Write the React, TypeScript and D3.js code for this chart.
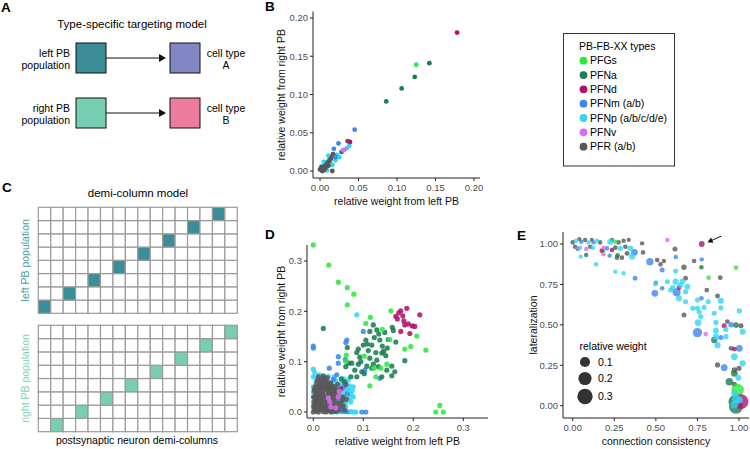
import React from "react";
import * as d3 from "d3";

const FONT = "'Liberation Sans', Arial, Helvetica, sans-serif";

// ---------- types / legend ----------
const typeKeys = ["PFGs", "PFNa", "PFNd", "PFNm", "PFNp", "PFNv", "PFR"];
const typeLabels = ["PFGs", "PFNa", "PFNd", "PFNm (a/b)", "PFNp (a/b/c/d/e)", "PFNv", "PFR (a/b)"];
const typeColors = ["#2be83f", "#1c7c53", "#b0126b", "#3d86ee", "#33d4f4", "#d96cf0", "#5a5658"];

// ---------- panel B: relative weight left vs right PB ----------
const bPFGs = [[0.125, 0.139]];
const bPFNa = [[0.142, 0.141], [0.123, 0.123], [0.106, 0.108], [0.086, 0.091], [0.028, 0.025]];
const bPFNd = [[0.178, 0.181], [0.039, 0.038]];
const bPFNm = [[0.045, 0.054], [0.024, 0.036], [0.018, 0.029], [0.02, 0.018]];
const bPFNp = [[0.038, 0.033], [0.035, 0.03], [0.012, 0.015], [0.015, 0.018], [0.018, 0.02], [0.01, 0.012],
  [0.006, 0.008], [0.004, 0.004], [0.008, 0.005], [0.014, 0.01], [0.02, 0.014], [0.022, 0.021],
  [0.016, 0.008], [0.002, 0.006], [0.011, 0.02], [0.005, 0.012], [0.025, 0.018], [0.009, 0.001]];
const bPFNv = [[0.032, 0.028], [0.03, 0.027]];
const bPFR = [[0.036, 0.039], [0.017, 0.022], [0.016, 0.0], [0.0, 0.002], [0.002, 0.001], [0.004, 0.004],
  [0.006, 0.006], [0.008, 0.008], [0.01, 0.011], [0.012, 0.013], [0.014, 0.016], [0.016, 0.019],
  [0.002, 0.005], [0.005, 0.001], [0.003, 0.0], [0.007, 0.004], [0.011, 0.007]];

// ---------- panel D: per neuron ----------
const dPFGs = [[0, 0.332], [0.031, 0.292], [0.05, 0.258], [0.068, 0.247], [0.081, 0.234], [0.068, 0.213],
  [0.155, 0.201], [0.114, 0.188], [0.105, 0.176], [0.138, 0.164], [0.153, 0.144], [0.207, 0.151],
  [0.195, 0.13], [0.183, 0.125], [0.225, 0.123], [0.066, 0.113], [0.102, 0.111], [0.065, 0.101],
  [0.147, 0.095], [0.135, 0.087], [0.121, 0.087], [0.125, 0.07], [0.113, 0.052], [0.253, 0.013],
  [0.245, 0], [0.26, 0]];
const dPFNa = [[0.02, 0.166], [0.12, 0.173], [0.127, 0.163], [0.113, 0.16], [0.131, 0.155], [0.143, 0.158],
  [0.16, 0.162], [0.15, 0.144], [0.165, 0.139], [0.133, 0.143], [0.122, 0.148], [0.105, 0.143],
  [0.1, 0.133], [0.117, 0.133], [0.138, 0.131], [0.148, 0.127], [0.09, 0.125], [0.087, 0.118],
  [0.11, 0.122], [0.125, 0.118], [0.137, 0.117], [0.093, 0.109], [0.113, 0.107], [0.127, 0.103],
  [0.077, 0.097], [0.09, 0.095], [0.12, 0.095], [0.107, 0.091], [0.065, 0.09], [0.071, 0.097],
  [0.083, 0.083], [0.097, 0.08], [0.117, 0.087], [0.157, 0.091], [0.087, 0.07], [0.102, 0.076],
  [0.137, 0.07], [0.157, 0.072], [0.183, 0.102], [0.158, 0.168], [0.062, 0.06], [0.075, 0.07],
  [0.047, 0.044], [0.06, 0.03], [0.068, 0.128], [0.141, 0.121], [0.13, 0.09], [0.095, 0.1],
  [0.108, 0.135], [0.145, 0.112], [0.147, 0.083], [0.163, 0.08], [0.056, 0.066], [0.042, 0.05]];
const dPFNd = [[0.175, 0.201], [0.187, 0.206], [0.165, 0.19], [0.179, 0.191], [0.181, 0.181], [0.19, 0.175],
  [0.198, 0.171], [0.203, 0.17], [0.213, 0.193], [0.175, 0.16], [0.193, 0.156], [0.171, 0.197],
  [0.183, 0.173], [0.168, 0.185], [0.055, 0.046]];
const dPFNm = [[0, 0.131], [0, 0.127], [0.067, 0.143], [0.065, 0.138], [0.1, 0.16], [0.05, 0.11],
  [0.05, 0.097], [0.032, 0.087], [0.103, 0.083], [0.133, 0.067], [0.047, 0.074], [0.097, 0],
  [0.105, 0], [0.028, 0.06], [0.015, 0.05], [0.06, 0.05], [0.055, 0.03], [0.04, 0.065], [0.064, 0.104],
  [0.068, 0.036], [0.056, 0.002], [0.066, 0.001]];
const dPFNp = [[0, 0.085], [0.087, 0.193], [0.02, 0.07], [0, 0.07], [0.01, 0.066], [0.03, 0.071],
  [0.045, 0.062], [0.055, 0.058], [0.065, 0.06], [0.07, 0.045], [0.075, 0.035], [0.06, 0.02],
  [0.08, 0.03], [0.075, 0.02], [0.04, 0], [0.05, 0], [0.06, 0], [0.07, 0], [0.075, 0.001], [0.08, 0],
  [0.085, 0], [0, 0.05], [0, 0.04], [0, 0.03], [0, 0.02], [0, 0.01], [0.045, 0.045], [0.05, 0.04],
  [0.065, 0.01], [0.04, 0.03], [0.052, 0.022], [0.035, 0.056], [0.02, 0.055], [0.01, 0.045],
  [0.025, 0.04], [0.06, 0.066], [0.048, 0.01], [0.072, 0.052], [0.08, 0.05], [0.062, 0.04],
  [0.005, 0.06], [0.015, 0.062], [0.07, 0.064], [0.038, 0.048], [0.058, 0.03], [0.003, 0.078],
  [0.012, 0.074], [0.025, 0.066], [0.042, 0.07], [0.05, 0.052], [0.066, 0.048], [0.078, 0.042],
  [0.072, 0.028], [0.064, 0.018], [0.058, 0.008], [0.045, 0.016]];
const dPFNv = [[0.033, 0.02], [0.05, 0.03], [0.035, 0.01], [0.03, 0.028], [0.045, 0.008], [0.052, 0.041]];
const dPFR = [[0, 0], [0.005, 0.002], [0.01, 0], [0.015, 0.004], [0.02, 0.001], [0.025, 0], [0.03, 0.003],
  [0.035, 0], [0.04, 0.002], [0.045, 0.001], [0.003, 0.01], [0.008, 0.014], [0.013, 0.009],
  [0.018, 0.012], [0.024, 0.008], [0.029, 0.013], [0.034, 0.01], [0.04, 0.012], [0.046, 0.009],
  [0.002, 0.02], [0.007, 0.024], [0.012, 0.019], [0.017, 0.023], [0.023, 0.018], [0.028, 0.022],
  [0.033, 0.02], [0.038, 0.025], [0.001, 0.03], [0.006, 0.034], [0.011, 0.029], [0.016, 0.033],
  [0.022, 0.028], [0.027, 0.032], [0.032, 0.036], [0.003, 0.04], [0.009, 0.043], [0.014, 0.039],
  [0.02, 0.042], [0.026, 0.046], [0.004, 0.05], [0.012, 0.052], [0.018, 0.055], [0.024, 0.06],
  [0.015, 0.065], [0.02, 0.072], [0.028, 0.068], [0.035, 0.058], [0.042, 0.045], [0.05, 0.03],
  [0.055, 0.018], [0.06, 0.012], [0.065, 0.055], [0.052, 0.04], [0.048, 0.055], [0.044, 0.035],
  [0.037, 0.042], [0.031, 0.05], [0.066, 0.025],
  [0.002, 0.006], [0.006, 0.017], [0.011, 0.005], [0.016, 0.016], [0.021, 0.007], [0.027, 0.015],
  [0.032, 0.006], [0.037, 0.015], [0.043, 0.005], [0.048, 0.018], [0.004, 0.027], [0.009, 0.035],
  [0.014, 0.026], [0.019, 0.036], [0.025, 0.025], [0.03, 0.041], [0.035, 0.031], [0.041, 0.022],
  [0.046, 0.028], [0.002, 0.045], [0.007, 0.056], [0.013, 0.046], [0.019, 0.048], [0.023, 0.053],
  [0.029, 0.058], [0.033, 0.046], [0.039, 0.035], [0.008, 0.063], [0.016, 0.058], [0.022, 0.066],
  [0.038, 0.052], [0.044, 0.04], [0.053, 0.011], [0.058, 0.024], [0.062, 0.004], [0.05, 0.004],
  [0.01, 0.07], [0.027, 0.05], [0.001, 0.012], [0.036, 0.005]];

// ---------- panel E: consistency, lateralization, relative weight ----------
const ePFR = [[0.0, 1.01, 0.005], [0.04, 1.03, 0.003], [0.075, 1.025, 0.004], [0.115, 1.025, 0.003],
  [0.165, 1.01, 0.005], [0.236, 1.025, 0.004], [0.276, 1.01, 0.006], [0.306, 1.02, 0.004],
  [0.337, 1.025, 0.003], [0.417, 1.004, 0.004], [0.014, 0.983, 0.004], [0.105, 0.983, 0.005],
  [0.256, 0.977, 0.006], [0.317, 0.983, 0.005], [0.423, 0.948, 0.005], [0.615, 0.969, 0.008],
  [0.266, 0.915, 0.006], [0.296, 0.915, 0.006], [0.327, 0.942, 0.007], [0.508, 0.901, 0.006],
  [0.528, 0.874, 0.005], [0.548, 0.895, 0.004], [0.73, 0.895, 0.005], [0.669, 0.856, 0.012],
  [0.679, 0.788, 0.007], [0.887, 0.792, 0.007], [0.806, 0.715, 0.006], [0.871, 0.678, 0.007],
  [0.669, 0.561, 0.008], [1.012, 0.495, 0.008], [0.952, 0.355, 0.006], [0.871, 0.252, 0.01],
  [0.972, 0.221, 0.012], [1.0, 0.231, 0.01], [0.972, 0.132, 0.008], [0.93, 0.52, 0.006]];
const ePFNm = [[0.052, 1.014, 0.004], [0.125, 1.01, 0.004], [0.206, 0.973, 0.005], [0.222, 0.928, 0.004],
  [0.371, 0.948, 0.028], [0.464, 0.891, 0.037], [0.776, 0.905, 0.004], [0.538, 0.839, 0.008],
  [0.375, 0.788, 0.007], [0.494, 0.695, 0.028], [0.538, 0.726, 0.005], [0.625, 0.701, 0.05],
  [0.774, 0.664, 0.006], [0.75, 0.452, 0.08], [0.891, 0.421, 0.008], [1.002, 0.355, 0.028],
  [0.911, 0.235, 0.028], [0.5, 0.76, 0.005], [0.62, 0.92, 0.004], [0.952, 0.5, 0.012]];
const ePFNa = [[0.081, 0.932, 0.004], [0.27, 0.93, 0.005], [0.03, 0.97, 0.004], [0.774, 0.856, 0.005],
  [0.982, 0.499, 0.014], [0.851, 0.406, 0.022], [0.972, 0.2, 0.028], [0.942, 0.148, 0.042],
  [0.976, 0.025, 0.2], [0.982, -0.006, 0.24]];
const ePFGs = [[0.256, 1.014, 0.004], [0.184, 0.957, 0.004], [0.982, 0.854, 0.007],
  [0.817, 0.792, 0.005], [0.992, 0.097, 0.18]];
const ePFNd = [[0.776, 1.0, 0.016], [0.175, 0.959, 0.005], [0.236, 0.963, 0.005], [0.639, 0.73, 0.006],
  [0.911, 0.495, 0.008], [0.972, 0.35, 0.006], [1.012, 0.025, 0.27]];
const ePFNv = [[0.028, 0.973, 0.004], [0.081, 0.969, 0.004], [0.185, 0.977, 0.004],
  [0.185, 0.936, 0.004], [0.569, 1.025, 0.005], [0.8, 0.443, 0.006]];
const ePFNp = [[0.02, 1.02, 0.004], [0.095, 1.01, 0.004], [0.145, 1.02, 0.005], [0.044, 0.977, 0.005],
  [0.121, 0.977, 0.005], [0.226, 1.014, 0.02], [0.286, 0.973, 0.012], [0.347, 0.973, 0.014],
  [0.048, 0.922, 0.004], [0.357, 0.922, 0.02], [0.141, 0.874, 0.005], [0.619, 0.833, 0.008],
  [0.256, 0.829, 0.004], [0.306, 0.819, 0.004], [0.569, 0.767, 0.008], [0.619, 0.767, 0.02],
  [0.498, 0.753, 0.007], [0.649, 0.746, 0.014], [0.69, 0.736, 0.016], [0.589, 0.715, 0.008],
  [0.679, 0.705, 0.01], [0.75, 0.654, 0.008], [0.679, 0.643, 0.009], [0.891, 0.649, 0.02],
  [0.815, 0.643, 0.008], [0.639, 0.664, 0.02], [0.722, 0.602, 0.008], [0.75, 0.602, 0.008],
  [0.79, 0.608, 0.008], [0.891, 0.606, 0.009], [0.76, 0.581, 0.009], [0.851, 0.571, 0.008],
  [0.77, 0.551, 0.01], [1.002, 0.586, 0.01], [0.754, 0.513, 0.028], [0.861, 0.515, 0.01],
  [0.921, 0.472, 0.01], [0.861, 0.464, 0.016], [1.022, 0.458, 0.018], [0.861, 0.427, 0.022],
  [0.921, 0.427, 0.01], [0.871, 0.375, 0.022], [0.972, 0.303, 0.028], [1.022, 0.262, 0.02],
  [0.996, 0.173, 0.016], [0.972, 0.076, 0.022], [0.972, 0.008, 0.05], [1.002, 0.035, 0.03],
  [0.66, 0.77, 0.012], [0.6, 0.73, 0.01], [0.985, 0.04, 0.06]];

const bData: Record<string, number[][]> = { PFGs: bPFGs, PFNa: bPFNa, PFNd: bPFNd, PFNm: bPFNm, PFNp: bPFNp, PFNv: bPFNv, PFR: bPFR };
const dData: Record<string, number[][]> = { PFGs: dPFGs, PFNa: dPFNa, PFNd: dPFNd, PFNm: dPFNm, PFNp: dPFNp, PFNv: dPFNv, PFR: dPFR };
const eData: Record<string, number[][]> = { PFGs: ePFGs, PFNa: ePFNa, PFNd: ePFNd, PFNm: ePFNm, PFNp: ePFNp, PFNv: ePFNv, PFR: ePFR };

const bOrder = ["PFNp", "PFR", "PFNm", "PFNa", "PFGs", "PFNv", "PFNd"];
const dOrder = ["PFNp", "PFNm", "PFNa", "PFGs", "PFNd", "PFR", "PFNv"];
const eOrder = ["PFR", "PFNm", "PFNa", "PFGs", "PFNd", "PFNv", "PFNp"];

const bTicks = [0, 0.05, 0.1, 0.15, 0.2];
const dTicks = [0, 0.1, 0.2, 0.3];
const eTicks = [0, 0.25, 0.5, 0.75, 1];
const sizeLegend = [0.1, 0.2, 0.3];

// panel C filled cells: column index for each row (bottom row first)
const leftFilled = [0, 2, 4, 6, 8, 10, 12, 14];
const rightFilled = [1, 3, 5, 7, 9, 11, 13, 15];
const nCols = 16;
const nRows = 8;

const colorOf = (k: string) => typeColors[typeKeys.indexOf(k)];

type Sc = d3.ScaleLinear<number, number>;

function Axes({ x, y, xLine, yLine, xTicks, yTicks, fmt, xTitle, yTitle, yTitleX }: {
  x: Sc; y: Sc; xLine: [number, number, number]; yLine: [number, number, number];
  xTicks: number[]; yTicks: number[]; fmt: (n: number) => string; xTitle: string; yTitle: string; yTitleX: number;
}) {
  const [xy, x0, x1] = xLine;
  const [yx, y0, y1] = yLine;
  return (
    <g fontFamily={FONT}>
      <line x1={x0} x2={x1} y1={xy} y2={xy} stroke="#222" strokeWidth={1} />
      <line x1={yx} x2={yx} y1={y0} y2={y1} stroke="#222" strokeWidth={1} />
      {xTicks.map(t => (
        <g key={"x" + t}>
          <line x1={x(t)} x2={x(t)} y1={xy} y2={xy + 3} stroke="#222" />
          <text x={x(t)} y={xy + 12.5} fontSize={9.5} fill="#4d4d4d" textAnchor="middle">{fmt(t)}</text>
        </g>
      ))}
      {yTicks.map(t => (
        <g key={"y" + t}>
          <line x1={yx - 3} x2={yx} y1={y(t)} y2={y(t)} stroke="#222" />
          <text x={yx - 5} y={y(t) + 3.4} fontSize={9.5} fill="#4d4d4d" textAnchor="end">{fmt(t)}</text>
        </g>
      ))}
      <text x={(x0 + x1) / 2} y={xy + 27} fontSize={10.5} textAnchor="middle" fill="#111">{xTitle}</text>
      <text transform={`translate(${yTitleX},${(y0 + y1) / 2}) rotate(-90)`} fontSize={10.5}
        textAnchor="middle" fill="#111">{yTitle}</text>
    </g>
  );
}

function PanelA() {
  const boxes = [
    { x: 76, y: 43, c: "#3b8e97" }, { x: 170, y: 43, c: "#8187c3" },
    { x: 76, y: 98, c: "#78ceb3" }, { x: 170, y: 98, c: "#ee7c9e" },
  ];
  return (
    <g fontFamily={FONT}>
      <text x={132} y={27.5} fontSize={11.5} textAnchor="middle">Type-specific targeting model</text>
      {boxes.map((b, i) => (
        <rect key={i} x={b.x} y={b.y} width={30} height={30} fill={b.c} stroke="#111" strokeWidth={1} />
      ))}
      {[58, 113].map(yy => (
        <g key={yy}>
          <line x1={106} x2={160} y1={yy} y2={yy} stroke="#111" strokeWidth={1} />
          <path d={`M159,${yy - 4} L166,${yy} L159,${yy + 4} Z`} fill="#111" />
        </g>
      ))}
      <g fontSize={10.5} textAnchor="end">
        <text x={70} y={56.5}>left PB</text>
        <text x={70} y={68.5}>population</text>
        <text x={70} y={111.5}>right PB</text>
        <text x={70} y={123.5}>population</text>
      </g>
      <g fontSize={10.5} textAnchor="middle">
        <text x={226} y={56.5}>cell type</text>
        <text x={226} y={68.5}>A</text>
        <text x={226} y={111.5}>cell type</text>
        <text x={226} y={123.5}>B</text>
      </g>
    </g>
  );
}

function Grid({ top, bottom, filled, color }: { top: number; bottom: number; filled: number[]; color: string }) {
  const cx = d3.scaleBand<number>().domain(d3.range(nCols)).range([38.3, 237.3]);
  // row 0 is the bottom row
  const ry = d3.scaleBand<number>().domain(d3.range(nRows)).range([bottom, top]);
  const cells: [number, number][] = [];
  for (const r of d3.range(nRows)) for (const c of d3.range(nCols)) cells.push([r, c]);
  return (
    <g>
      {cells.map(([r, c]) => (
        <rect key={r + "-" + c} x={cx(c)} y={ry(r)} width={cx.bandwidth()} height={ry.bandwidth()}
          fill={filled[r] === c ? color : "#fff"} stroke="#9a9a9a" strokeWidth={1.2} />
      ))}
    </g>
  );
}

function PanelC() {
  return (
    <g fontFamily={FONT}>
      <text x={138} y={197} fontSize={11.5} textAnchor="middle">demi-column model</text>
      <Grid top={207.3} bottom={313.3} filled={leftFilled} color="#3b8e97" />
      <Grid top={325.3} bottom={431.7} filled={rightFilled} color="#78ceb3" />
      <text transform="translate(29,260.3) rotate(-90)" fontSize={10.5} textAnchor="middle" fill="#4c9ca5">left PB population</text>
      <text transform="translate(29,378.5) rotate(-90)" fontSize={10.5} textAnchor="middle" fill="#7fd0b7">right PB population</text>
      <text x={137} y={444} fontSize={10.5} textAnchor="middle">postsynaptic neuron demi-columns</text>
    </g>
  );
}

export default function App() {
  const f2 = d3.format(".2f");
  const f1 = d3.format(".1f");

  const bx = d3.scaleLinear().domain([0, 0.2]).range([320, 474]);
  const by = d3.scaleLinear().domain([0, 0.2]).range([171, 18]);
  const dx = d3.scaleLinear().domain([0, 0.3]).range([313.3, 463.3]);
  const dy = d3.scaleLinear().domain([0, 0.3]).range([412, 261]);
  const ex = d3.scaleLinear().domain([0, 1]).range([572.7, 739]);
  const ey = d3.scaleLinear().domain([0, 1]).range([405.7, 244]);
  const er = d3.scaleSqrt().domain([0, 0.33]).range([1.5, 8]);

  return (
    <svg width={750} height={449} style={{ position: "absolute", left: 0, top: 0, background: "#fff" }}>
      <defs>
        <clipPath id="eclip"><rect x={563.5} y={225} width={186.5} height={192.5} /></clipPath>
      </defs>
      {/* panel letters */}
      <g fontFamily={FONT} fontWeight="bold" fontSize={13.5}>
        <text x={1} y={12}>A</text>
        <text x={265} y={11}>B</text>
        <text x={2} y={192}>C</text>
        <text x={265} y={239}>D</text>
        <text x={517} y={240}>E</text>
      </g>

      <PanelA />
      <PanelC />

      {/* panel B */}
      <Axes x={bx} y={by} xLine={[178, 313, 480]} yLine={[313, 11.5, 178]} xTicks={bTicks} yTicks={bTicks}
        fmt={f2} xTitle="relative weight from left PB" yTitle="relative weight from right PB" yTitleX={285} />
      {bOrder.map(k => (
        <g key={k} fill={colorOf(k)}>
          {bData[k].map((p, i) => <circle key={i} cx={bx(p[0])} cy={by(p[1])} r={2.4} />)}
        </g>
      ))}

      {/* legend */}
      <g fontFamily={FONT}>
        <rect x={563.5} y={33.5} width={111} height={132.5} fill="#fff" stroke="#333" strokeWidth={1} />
        <text x={579} y={49.5} fontSize={10.5}>PB-FB-XX types</text>
        {typeLabels.map((t, i) => (
          <g key={t}>
            <circle cx={583.5} cy={60.7 + i * 14.33} r={3.9} fill={typeColors[i]} />
            <text x={590} y={60.7 + i * 14.33 + 3.6} fontSize={10.5}>{t}</text>
          </g>
        ))}
      </g>

      {/* panel D */}
      <Axes x={dx} y={dy} xLine={[418, 307, 488]} yLine={[307, 245, 418]} xTicks={dTicks} yTicks={dTicks}
        fmt={f1} xTitle="relative weight from left PB" yTitle="relative weight from right PB" yTitleX={285} />
      {dOrder.map(k => (
        <g key={k} fill={colorOf(k)} fillOpacity={0.88}>
          {dData[k].map((p, i) => <circle key={i} cx={dx(p[0])} cy={dy(p[1])} r={2.6} />)}
        </g>
      ))}

      {/* panel E */}
      <Axes x={ex} y={ey} xLine={[418, 563, 749]} yLine={[563, 232, 418]} xTicks={eTicks} yTicks={eTicks}
        fmt={f2} xTitle="connection consistency" yTitle="lateralization" yTitleX={537} />
      <g clipPath="url(#eclip)">
        {eOrder.map(k => (
          <g key={k} fill={colorOf(k)} fillOpacity={0.8}>
            {eData[k].map((p, i) => <circle key={i} cx={ex(p[0])} cy={ey(p[1])} r={er(p[2])} />)}
          </g>
        ))}
      </g>
      <line x1={721.5} y1={236} x2={712} y2={240.3} stroke="#111" strokeWidth={1} />
      <path d="M707.5,242.3 L711,237.6 L713.4,242.8 Z" fill="#111" />
      <g fontFamily={FONT}>
        <text x={579.5} y={350} fontSize={10.5}>relative weight</text>
        {sizeLegend.map((w, i) => (
          <g key={w}>
            <circle cx={585} cy={[362, 378.5, 396.5][i]} r={er(w)} fill="#333" />
            <text x={598} y={[362, 378.5, 396.5][i] + 3.5} fontSize={10.5}>{f1(w)}</text>
          </g>
        ))}
      </g>
    </svg>
  );
}
